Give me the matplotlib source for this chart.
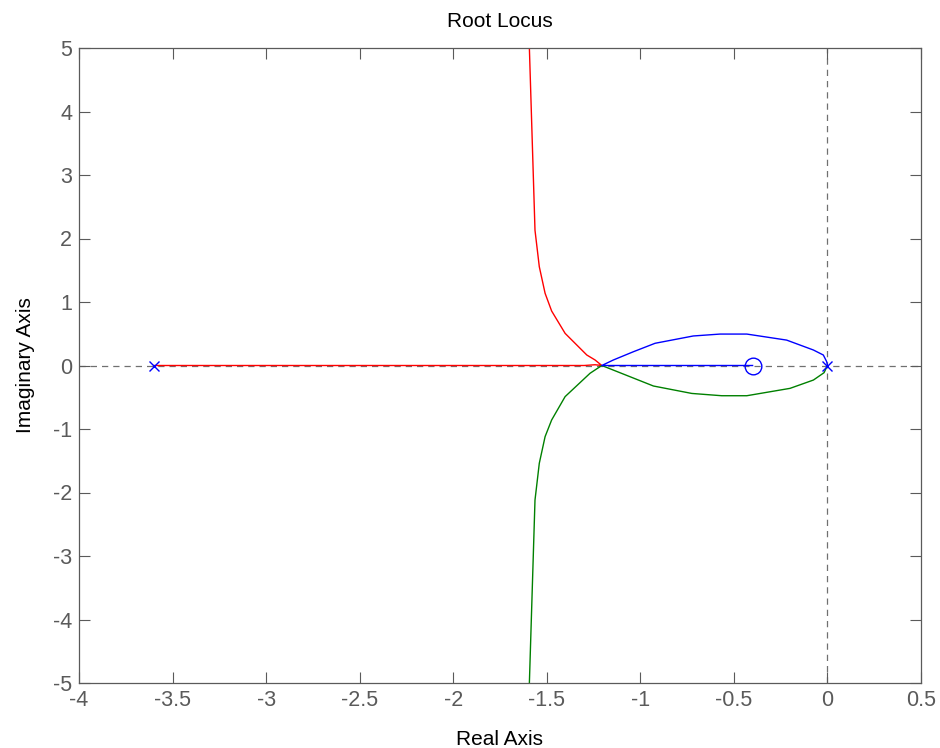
"""Root locus plot redrawn in matplotlib (MATLAB-style look)."""
import matplotlib
matplotlib.use("Agg")
import matplotlib.pyplot as plt

plt.rcParams["font.family"] = ["Liberation Sans", "DejaVu Sans"]

# Branch 1 (red): pole at -3.6 along the real axis, then up to the asymptote
red_re = [-3.6, -1.30, -1.242, -1.206, -1.242, -1.286, -1.402, -1.474, -1.509, -1.540, -1.563, -1.593]
red_im = [0.0, 0.0, 0.012, 0.0, 0.087, 0.165, 0.506, 0.858, 1.137, 1.556, 2.13, 5.0]

# Branch 2 (green): pole at 0, lower loop to breakaway, then down to the asymptote
green_re = [0.0, -0.018, -0.075, -0.20, -0.431, -0.565, -0.725, -0.93, -1.206,
            -1.269, -1.402, -1.474, -1.509, -1.540, -1.563, -1.593]
green_im = [0.0, -0.113, -0.229, -0.36, -0.476, -0.476, -0.44, -0.323, 0.0,
            -0.123, -0.49, -0.858, -1.12, -1.54, -2.12, -5.0]

# Branch 3 (blue): pole at 0, upper loop to breakaway, then along the axis to the zero
blue_re = [0.0, -0.004, -0.022, -0.075, -0.218, -0.431, -0.574, -0.717, -0.921,
           -1.037, -1.144, -1.206, -0.4]
blue_im = [0.0, 0.06, 0.165, 0.244, 0.40, 0.495, 0.495, 0.465, 0.35,
           0.217, 0.087, 0.0, 0.0]

poles_re = [-3.6, 0.0]
zeros_re = [-0.4]

x_ticks = [-4, -3.5, -3, -2.5, -2, -1.5, -1, -0.5, 0, 0.5]
y_ticks = [-5, -4, -3, -2, -1, 0, 1, 2, 3, 4, 5]

fig = plt.figure(figsize=(9.4, 7.48), dpi=100)
ax = fig.add_axes([79 / 940, 1 - 683 / 748, 842 / 940, 635 / 748])

# Dashed axes through the origin
ax.axhline(0, color="#707070", linestyle=(0, (5, 4)), linewidth=0.9, zorder=1)
ax.axvline(0, color="#707070", linestyle=(0, (5, 4)), linewidth=0.9, zorder=1)

ax.plot(red_re, red_im, color="#ff0000", linewidth=1.0, zorder=2)
ax.plot(green_re, green_im, color="#008000", linewidth=1.0, zorder=2)
ax.plot(blue_re, blue_im, color="#0000ff", linewidth=1.0, zorder=3)

ax.plot(poles_re, [0] * len(poles_re), linestyle="none", marker="x",
        color="#0000ff", markersize=7, markeredgewidth=1.0, zorder=4)
ax.plot(zeros_re, [0] * len(zeros_re), linestyle="none", marker="o",
        markerfacecolor="none", markeredgecolor="#0000ff", markersize=12,
        markeredgewidth=1.0, zorder=4)

ax.set_xlim(-4, 0.5)
ax.set_ylim(-5, 5)
ax.set_xticks(x_ticks)
ax.set_xticklabels([f"{v:g}" for v in x_ticks])
ax.set_yticks(y_ticks)
ax.set_yticklabels([f"{v:g}" for v in y_ticks])

ax.tick_params(direction="in", top=True, right=True, length=8, width=0.8,
               colors="#5a5a5a", labelsize=15.5, pad=5)
for spine in ax.spines.values():
    spine.set_color("#5a5a5a")
    spine.set_linewidth(0.9)

ax.set_title("Root Locus", fontsize=15, color="black", pad=15)
ax.set_xlabel("Real Axis", fontsize=15, color="black", labelpad=14)
ax.set_ylabel("Imaginary Axis", fontsize=15, color="black", labelpad=13)

fig.savefig("out.png")
